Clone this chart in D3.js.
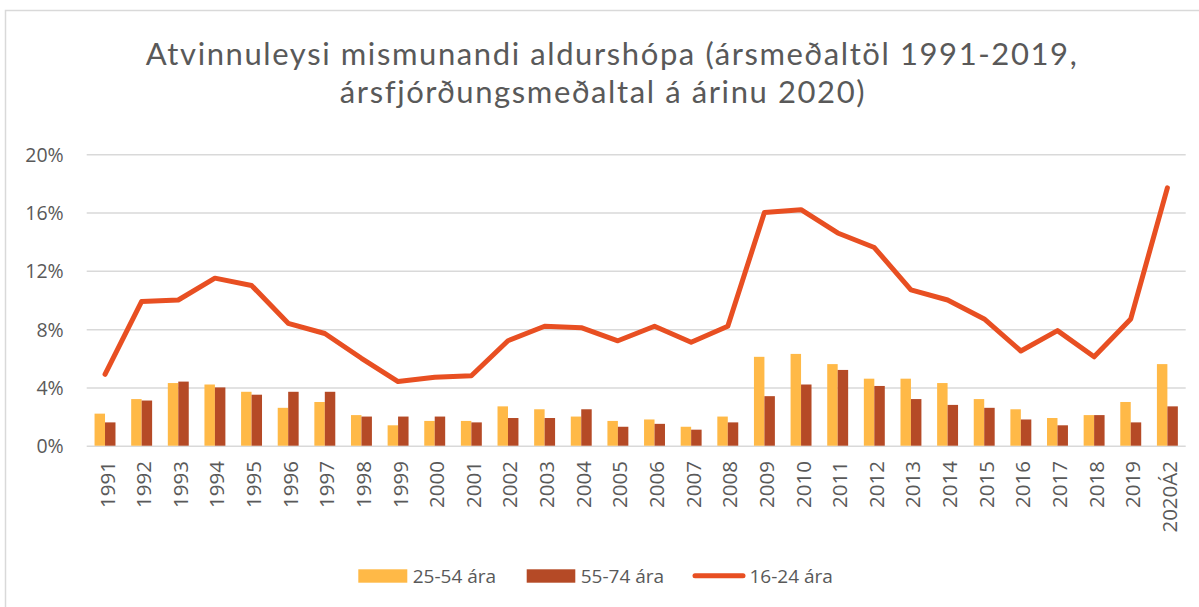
<!DOCTYPE html>
<html>
<head>
<meta charset="utf-8">
<script src="https://cdn.jsdelivr.net/npm/d3@7"></script>
<style>
  body { margin: 0; background: #fff; }
  text { font-family: "Open Sans", Lato, sans-serif; fill: #595959; }
</style>
</head>
<body>
<div id="container"></div>
<script>
//******************** DATA ********************//
const years = ["1991","1992","1993","1994","1995","1996","1997","1998","1999","2000",
  "2001","2002","2003","2004","2005","2006","2007","2008","2009","2010",
  "2011","2012","2013","2014","2015","2016","2017","2018","2019","2020Á2"];

// 25-54 ára
const mid = [2.2,3.2,4.3,4.2,3.7,2.6,3.0,2.1,1.4,1.7,
  1.7,2.7,2.5,2.0,1.7,1.8,1.3,2.0,6.1,6.3,
  5.6,4.6,4.6,4.3,3.2,2.5,1.9,2.1,3.0,5.6];
// 55-74 ára
const old = [1.6,3.1,4.4,4.0,3.5,3.7,3.7,2.0,2.0,2.0,
  1.6,1.9,1.9,2.5,1.3,1.5,1.1,1.6,3.4,4.2,
  5.2,4.1,3.2,2.8,2.6,1.8,1.4,2.1,1.6,2.7];
// 16-24 ára
const young = [4.9,9.9,10.0,11.5,11.0,8.4,7.7,6.0,4.4,4.7,
  4.8,7.2,8.2,8.1,7.2,8.2,7.1,8.2,16.0,16.2,
  14.6,13.6,10.7,10.0,8.7,6.5,7.9,6.1,8.7,17.7];

const yTicks = [0, 4, 8, 12, 16, 20];
const seriesNames = ["25-54 ára", "55-74 ára", "16-24 ára"];
const titleLines = ["Atvinnuleysi mismunandi aldurshópa (ársmeðaltöl 1991-2019,",
  "ársfjórðungsmeðaltal á árinu 2020)"];

//******************** SETUP ********************//
const width = 1199;
const height = 607;
const colors = { mid: "#FFB947", old: "#B54A26", young: "#E84F22", grid: "#D9D9D9" };

const svg = d3.select("#container")
  .append("svg")
  .attr("width", width)
  .attr("height", height);

// chart frame
svg.append("rect")
  .attr("x", 5.5).attr("y", 10.5)
  .attr("width", 1200).attr("height", 620)
  .attr("fill", "none")
  .attr("stroke", colors.grid)
  .attr("stroke-width", 1.5);

//---------- SCALES ----------//
const x = d3.scaleBand().domain(years).range([86.7, 1185.7]);
const y = d3.scaleLinear().domain([0, 20]).range([445.7, 154.3]);
const barW = x.bandwidth() * 2 / 7;

//---------- TITLE ----------//
// Lato has a shorter line box, so the two lines don't collide
svg.selectAll(".title")
  .data(titleLines)
  .join("text")
  .attr("class", "title")
  .attr("x", (d, i) => i === 0 ? 612 : 603)
  .attr("y", (d, i) => i === 0 ? 65 : 103)
  .attr("text-anchor", "middle")
  .style("font-family", "Lato, sans-serif")
  .style("font-size", "31px")
  .style("letter-spacing", "1.6px")
  .text(d => d);

//---------- GRID + Y AXIS ----------//
const yAxis = d3.axisLeft(y)
  .tickValues(yTicks)
  .tickSize(-(1185.7 - 86.7))
  .tickPadding(23)
  .tickFormat(d => d + "%");

svg.append("g")
  .attr("transform", "translate(86.7,0)")
  .call(yAxis)
  .call(g => g.select(".domain").remove())
  .call(g => g.selectAll("line").attr("stroke", colors.grid).attr("stroke-width", 1.5))
  .call(g => g.selectAll("text")
    .style("font-size", "19.5px")
    .attr("fill", "#595959")
    .attr("dy", "0.36em"));

//---------- BARS ----------//
svg.append("g").selectAll("rect")
  .data(years)
  .join("rect")
  .attr("x", (d, i) => x(d) + x.bandwidth() / 2 - barW)
  .attr("y", (d, i) => y(mid[i]))
  .attr("width", barW)
  .attr("height", (d, i) => y(0) - y(mid[i]))
  .attr("fill", colors.mid);

svg.append("g").selectAll("rect")
  .data(years)
  .join("rect")
  .attr("x", (d, i) => x(d) + x.bandwidth() / 2)
  .attr("y", (d, i) => y(old[i]))
  .attr("width", barW)
  .attr("height", (d, i) => y(0) - y(old[i]))
  .attr("fill", colors.old);

//---------- X AXIS LABELS ----------//
svg.append("g").selectAll("text")
  .data(years)
  .join("text")
  .attr("transform", d => `translate(${x(d) + x.bandwidth() / 2 + 9.5},461) rotate(-90)`)
  .attr("text-anchor", "end")
  .style("font-size", "20.5px")
  .text(d => d);

//---------- LINE ----------//
svg.append("path")
  .datum(young)
  .attr("d", d3.line()
    .x((d, i) => x(years[i]) + x.bandwidth() / 2)
    .y(d => y(d)))
  .attr("fill", "none")
  .attr("stroke", colors.young)
  .attr("stroke-width", 5)
  .attr("stroke-linejoin", "round")
  .attr("stroke-linecap", "round");

//---------- LEGEND ----------//
const legend = svg.append("g");
legend.append("rect")
  .attr("x", 358.3).attr("y", 569.3).attr("width", 49).attr("height", 13.4)
  .attr("fill", colors.mid);
legend.append("text")
  .attr("x", 412.7).attr("y", 582.5)
  .style("font-size", "19px")
  .text(seriesNames[0]);
legend.append("rect")
  .attr("x", 526.7).attr("y", 569.3).attr("width", 48.6).attr("height", 13.4)
  .attr("fill", colors.old);
legend.append("text")
  .attr("x", 580.7).attr("y", 582.5)
  .style("font-size", "19px")
  .text(seriesNames[1]);
legend.append("line")
  .attr("x1", 695).attr("x2", 743)
  .attr("y1", 575.8).attr("y2", 575.8)
  .attr("stroke", colors.young)
  .attr("stroke-width", 5)
  .attr("stroke-linecap", "round");
legend.append("text")
  .attr("x", 749.5).attr("y", 582.5)
  .style("font-size", "19px")
  .text(seriesNames[2]);
</script>
</body>
</html>
